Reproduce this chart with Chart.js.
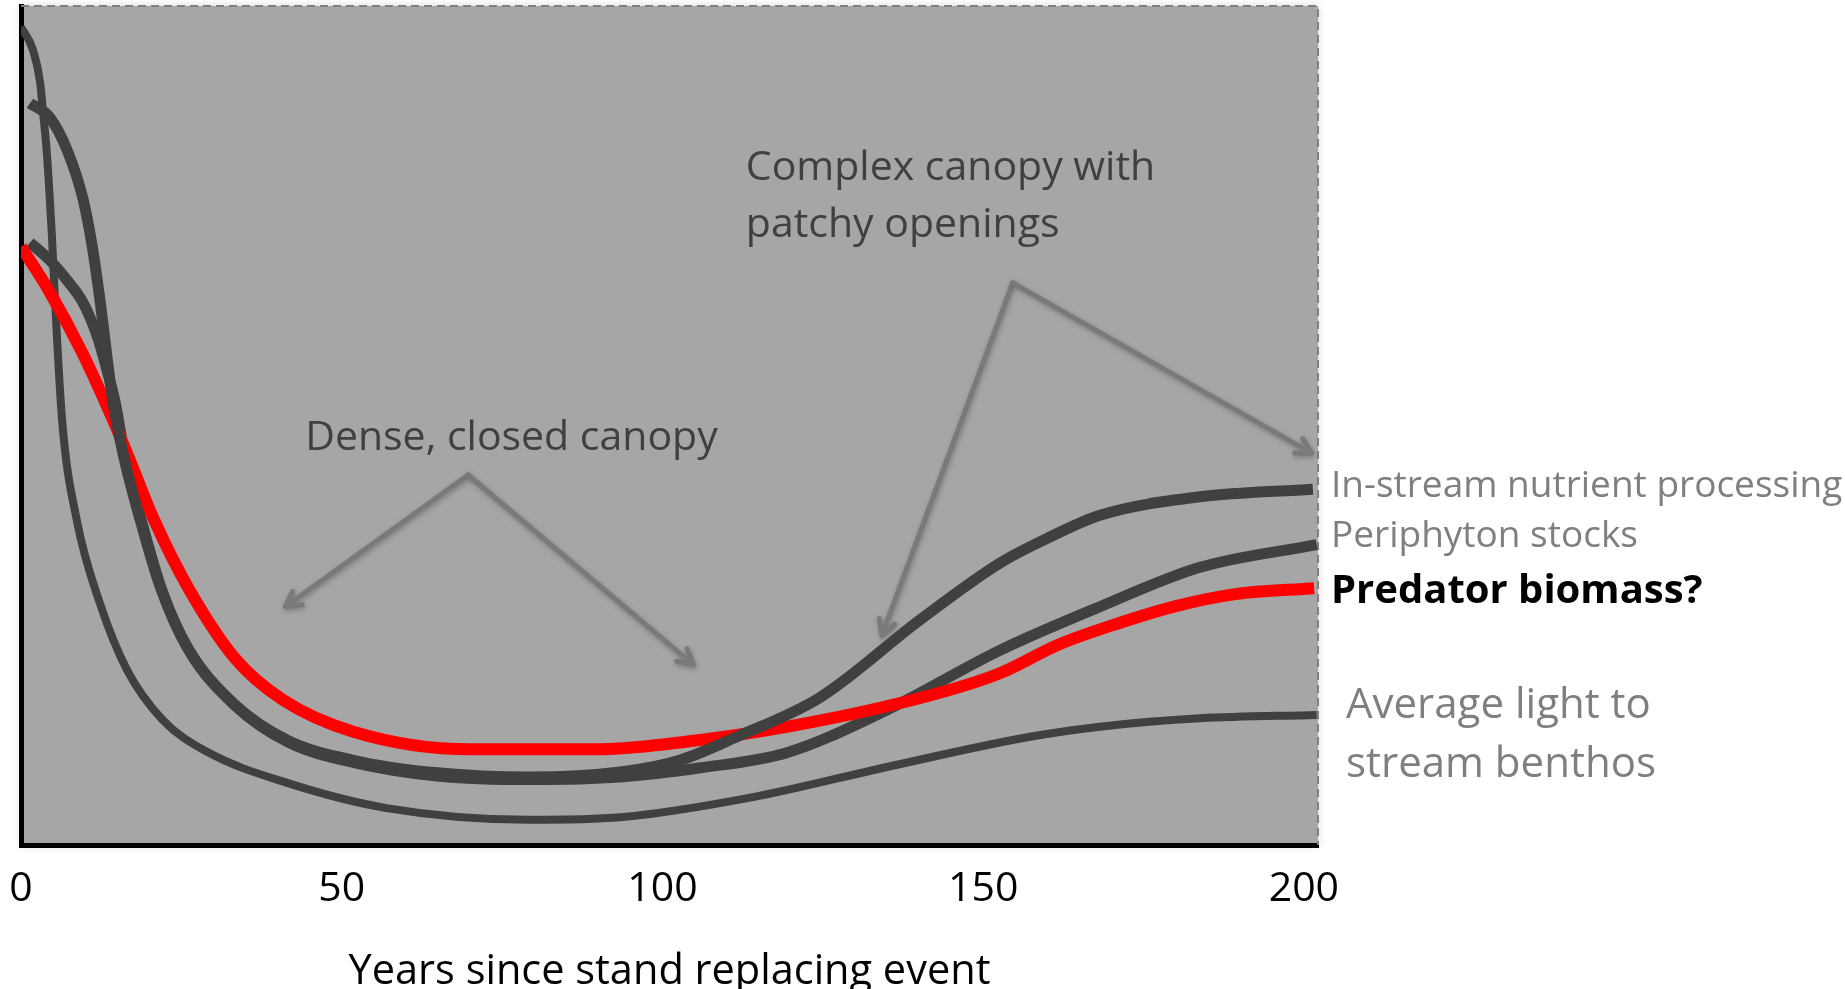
<html><head>
<title>Stream response to stand age</title>
<script src="https://cdn.jsdelivr.net/npm/chart.js"></script>
<style>
  body {
    margin: 0;
    background: #ffffff;
  }
  #wrap {
    width: 1845px;
    height: 989px;
  }
</style>
</head>
<body>
<div id="wrap">
  <canvas id="standChart" width="1845" height="989"></canvas>
</div>

<script>
// years since disturbance, and relative level of each response (0-100)
const lightYears = [0, 1.9, 3.0, 3.4, 4.0, 4.5, 4.8, 5.3, 6.4, 8.7, 12.3, 16.5, 22.1, 29, 41.5, 57, 79.3, 93.4, 114.1, 135, 157.3, 168.2, 183.8, 202];
const lightValues = [97.5, 94.7, 90.8, 87.6, 82.8, 76.9, 72.9, 65.0, 50.7, 38.7, 28.8, 20.9, 14.9, 11.1, 7.4, 4.4, 3.0, 3.3, 5.7, 9.3, 12.9, 14.1, 15.1, 15.5];

const nutrientYears = [1.4, 4.5, 7.2, 9.7, 11.2, 12.3, 14.3, 15.9, 18.6, 21.7, 25.9, 33.1, 41.5, 51.8, 64.9, 79.4, 93.4, 102.7, 111.6, 124.6, 140.1, 152.6, 160.4, 168.2, 183.8, 201.4];
const nutrientValues = [88.4, 86.7, 82.8, 76.9, 70.9, 65.0, 53.0, 46.7, 38.7, 30.8, 23.6, 16.9, 12.5, 10.1, 8.6, 8.1, 8.7, 10.1, 12.9, 17.6, 26.8, 33.6, 36.7, 39.3, 41.5, 42.4];

const periphytonYears = [1.4, 4.5, 7.2, 9.7, 11.9, 13.4, 14.7, 16.2, 18.9, 22.0, 26.2, 33.4, 41.8, 52.1, 65.2, 79.4, 93.4, 105.9, 119.4, 135, 152.6, 168.2, 183.8, 202];
const periphytonValues = [71.8, 69.7, 67.3, 64.6, 60.6, 56.6, 52.7, 46.3, 38.3, 30.3, 23.2, 16.6, 12.2, 9.8, 8.2, 7.8, 8.1, 9.2, 11.0, 16.1, 23.2, 28.4, 33.1, 35.8];

const predatorYears = [0, 4.1, 9.6, 14.2, 16.9, 20.6, 26.1, 33.4, 40.8, 51.8, 70.1, 88.5, 106.8, 125.1, 143.5, 152.7, 161.8, 171.0, 180.2, 189.3, 201.6];
const predatorValues = [71.3, 66.4, 58.6, 50.9, 46.0, 39.0, 30.6, 22.2, 17.3, 13.5, 11.4, 11.4, 12.6, 14.9, 18.2, 20.5, 23.9, 26.4, 28.5, 29.9, 30.6];

const yearTicks = [0, 50, 100, 150, 200];

function toPoints(xs, ys) {
  return xs.map((x, i) => ({x: x, y: ys[i]}));
}

const FONT = "'Open Sans', sans-serif";

// grey plot panel with a soft halo, dashed frame on top and right
const panel = {
  id: 'panel',
  beforeDraw(chart) {
    const {ctx, chartArea: a} = chart;
    ctx.save();
    ctx.fillStyle = '#ffffff';
    ctx.fillRect(0, 0, chart.width, chart.height);
    ctx.shadowColor = 'rgba(0,0,0,0.18)';
    ctx.shadowBlur = 8;
    ctx.fillStyle = '#a6a6a6';
    ctx.fillRect(a.left, a.top, a.right - a.left, a.bottom - a.top);
    ctx.restore();
  },
  beforeDatasetsDraw(chart) {
    const {ctx, chartArea: a} = chart;
    ctx.save();
    ctx.strokeStyle = '#808080';
    ctx.lineWidth = 2;
    ctx.setLineDash([8, 5]);
    ctx.beginPath();
    ctx.moveTo(a.left, a.top);
    ctx.lineTo(a.right, a.top);
    ctx.lineTo(a.right, a.bottom);
    ctx.stroke();
    ctx.restore();
  }
};

function arrow(ctx, x0, y0, x1, y1) {
  const ang = Math.atan2(y1 - y0, x1 - x0);
  const head = 17;
  ctx.beginPath();
  ctx.moveTo(x0, y0);
  ctx.lineTo(x1, y1);
  ctx.moveTo(x1 - head * Math.cos(ang - 0.5), y1 - head * Math.sin(ang - 0.5));
  ctx.lineTo(x1, y1);
  ctx.lineTo(x1 - head * Math.cos(ang + 0.5), y1 - head * Math.sin(ang + 0.5));
  ctx.stroke();
}

// canopy arrows and text labels
const notes = {
  id: 'notes',
  afterDraw(chart) {
    const {ctx, chartArea: a} = chart;
    const xs = chart.scales.x, ys = chart.scales.y;
    const px = v => xs.getPixelForValue(v);
    const py = v => ys.getPixelForValue(v);

    ctx.save();
    ctx.strokeStyle = '#7a7a7a';
    ctx.lineWidth = 5;
    ctx.lineCap = 'round';
    ctx.lineJoin = 'round';
    ctx.shadowColor = 'rgba(90,90,90,0.55)';
    ctx.shadowBlur = 5;
    ctx.shadowOffsetX = 1;
    ctx.shadowOffsetY = 2;
    arrow(ctx, px(69.7), py(44.1), px(41.2), py(28.4));
    arrow(ctx, px(69.7), py(44.1), px(104.8), py(21.5));
    arrow(ctx, px(154.6), py(67.0), px(134.2), py(25.0));
    arrow(ctx, px(154.6), py(67.0), px(201.2), py(46.7));
    ctx.restore();

    ctx.save();
    ctx.textAlign = 'left';
    ctx.textBaseline = 'alphabetic';
    ctx.fillStyle = '#404040';
    ctx.font = '41px ' + FONT;
    ctx.fillText('Dense, closed canopy', px(44.3), py(47.1));
    ctx.fillText('Complex canopy with', px(113.0), py(79.3));
    ctx.fillText('patchy openings', px(113.0), py(72.5));

    const lx = a.right + 13;
    ctx.fillStyle = '#7f7f7f';
    ctx.font = '37px ' + FONT;
    ctx.fillText('In-stream nutrient processing', lx, 497);
    ctx.fillText('Periphyton stocks', lx, 547);
    ctx.fillStyle = '#000000';
    ctx.font = 'bold 40px ' + FONT;
    ctx.fillText('Predator biomass?', lx, 603);
    ctx.fillStyle = '#7f7f7f';
    ctx.font = '42px ' + FONT;
    ctx.fillText('Average light to', lx + 15, 718);
    ctx.fillText('stream benthos', lx + 15, 777);
    ctx.restore();
  }
};

function line(data, color, width, order) {
  return {
    data: data,
    borderColor: color,
    borderWidth: width,
    pointRadius: 0,
    fill: false,
    cubicInterpolationMode: 'monotone',
    borderCapStyle: 'butt',
    order: order
  };
}

new Chart(document.getElementById('standChart'), {
  type: 'line',
  data: {
    datasets: [
      line(toPoints(nutrientYears, nutrientValues), '#404040', 11, 0),
      line(toPoints(predatorYears, predatorValues), '#ff0000', 12, 1),
      line(toPoints(periphytonYears, periphytonValues), '#404040', 11, 2),
      line(toPoints(lightYears, lightValues), '#404040', 8, 3)
    ]
  },
  options: {
    responsive: false,
    devicePixelRatio: 1,
    animation: false,
    layout: {padding: {top: 6, right: 527, bottom: 0, left: 0}},
    plugins: {
      legend: {display: false},
      tooltip: {enabled: false}
    },
    scales: {
      x: {
        type: 'linear',
        min: 0,
        max: 202.2,
        afterFit(scale) {
          scale.height = 144;
          scale.paddingLeft = 0;
          scale.paddingRight = 0;
        },
        afterBuildTicks(scale) {
          scale.ticks = yearTicks.map(v => ({value: v}));
        },
        grid: {display: false, drawTicks: false},
        border: {display: true, color: '#000000', width: 5},
        ticks: {
          color: '#000000',
          padding: 20,
          maxRotation: 0,
          autoSkip: false,
          font: {family: FONT, size: 41}
        },
        title: {
          display: true,
          text: 'Years since stand replacing event',
          color: '#000000',
          font: {family: FONT, size: 41.5},
          padding: {top: 0, bottom: -8}
        }
      },
      y: {
        min: 0,
        max: 100,
        afterFit(scale) {
          scale.width = 21;
          scale.paddingTop = 0;
          scale.paddingBottom = 0;
        },
        grid: {display: false, drawTicks: false},
        border: {display: true, color: '#000000', width: 5},
        ticks: {display: false}
      }
    }
  },
  plugins: [panel, notes]
});
</script>
</body></html>
